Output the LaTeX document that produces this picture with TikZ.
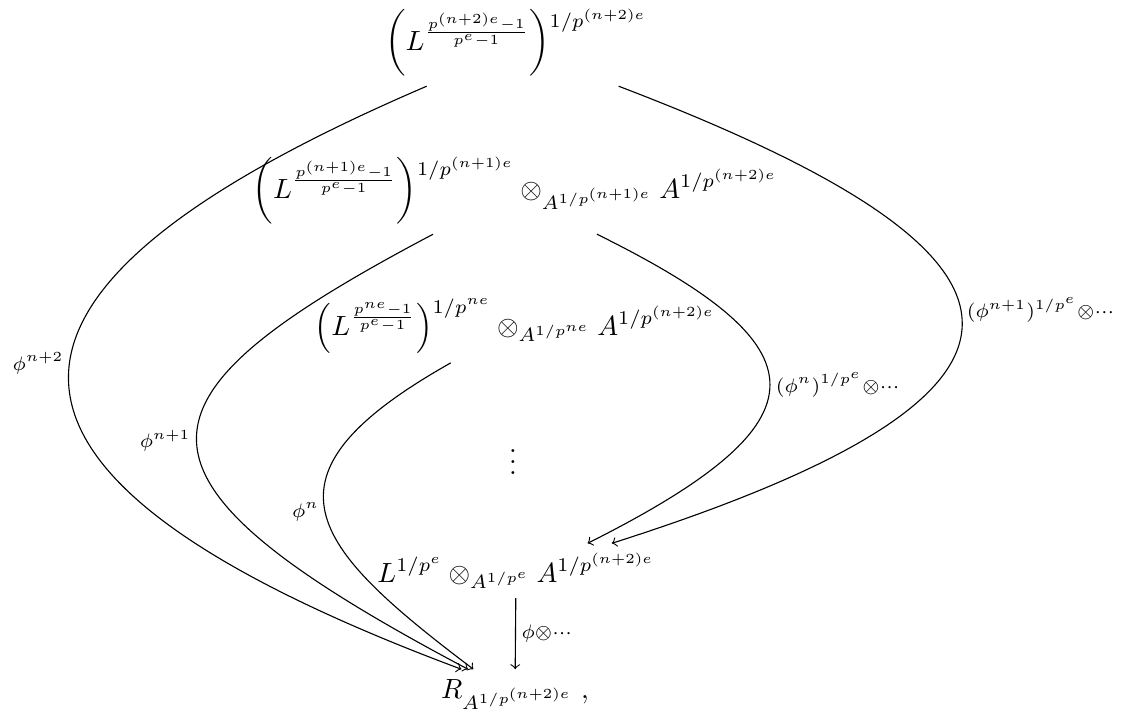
\documentclass[tikz,border=0pt]{standalone}
\usepackage{amsmath}
\newcommand{\dnsup}[2]{\raisebox{-#1}{$\scriptstyle #2$}}
\tikzset{
  obj/.style={anchor=base},
  lbl/.style={inner sep=2pt},
}
\begin{document}
\begin{tikzpicture}[x=0.36pt, y=-0.36pt]
	\useasboundingbox (0,0) rectangle (1121,716);
	% the objects, top to bottom
	\node[obj] (top) at (516,50) {$\left(L^{\frac{p^{(n+2)e}-1}{p^e-1}}\right)^{\dnsup{4pt}{1/p^{(n+2)e}}}$};
	\node[obj] (mid) at (515,198) {$\left(L^{\frac{p^{(n+1)e}-1}{p^e-1}}\right)^{\dnsup{4pt}{1/p^{(n+1)e}}}\otimes_{A^{1/p^{(n+1)e}}} A^{1/p^{(n+2)e}}$};
	\node[obj] (low) at (515,335) {$\left(L^{\frac{p^{ne}-1}{p^e-1}}\right)^{\dnsup{1.5pt}{1/p^{ne}}}\otimes_{A^{1/p^{ne}}} A^{1/p^{(n+2)e}}$};
	\node (dots) at (513,454) {$\vdots$};
	\node[obj] (Lt) at (516,582) {$L^{1/p^e}\otimes_{A^{1/p^e}} A^{1/p^{(n+2)e}}$};
	\node[obj] (R) at (515,698) {$R_{A^{1/p^{(n+2)e}}}\;,$};
	% arrows on the left
	\draw[->] (top.206) .. controls (-30,282) and (-83,466) .. node[lbl, left, pos=0.48] {$\scriptstyle\phi^{n+2}$} (R.155);
	\draw[->] (mid.208) .. controls (121,399) and (103,476) .. node[lbl, left, pos=0.5] {$\scriptstyle\phi^{n+1}$} (R.152);
	\draw[->] (low.210) .. controls (250,476) and (309,545) .. node[lbl, left, pos=0.5] {$\scriptstyle\phi^{n}$} (R.149);
	% arrows on the right
	\draw[->] (top.337) .. controls (1056,253) and (1099,388) .. node[lbl, right, pos=0.48] {$\scriptstyle(\phi^{n+1})^{1/p^e}\otimes\cdots$} (Lt.16);
	\draw[->] (mid.332) .. controls (825,347) and (833,420) .. node[lbl, right, pos=0.5] {$\scriptstyle(\phi^{n})^{1/p^e}\otimes\cdots$} (Lt.21);
	\draw[->] (Lt) -- node[lbl, right] {$\scriptstyle\phi\otimes\cdots$} (R);
\end{tikzpicture}
\end{document}
